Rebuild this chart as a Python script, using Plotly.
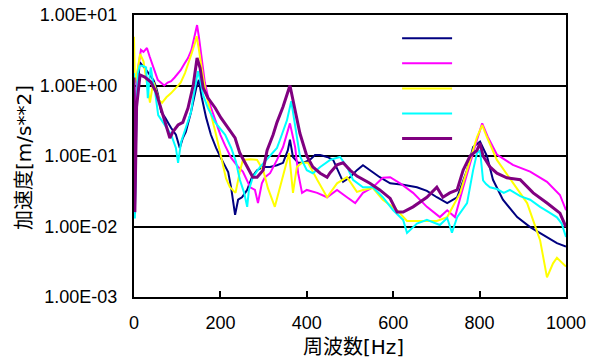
import plotly.graph_objects as go

# ---- data (frequency in Hz, acceleration in m/s**2) ----
f_navy = [0, 2, 6, 13, 25, 37, 45, 50, 56, 63, 72, 86, 97, 106, 113, 120, 132, 144, 150, 157, 167, 178, 190, 201,
          218, 225, 231, 234, 241, 250, 262, 273, 285, 299, 315, 331, 345, 356, 361, 368, 380, 391, 407, 419, 431,
          447, 461, 472, 484, 500, 516, 530, 546, 569, 593, 623, 655, 678, 701, 725, 748, 771, 785, 801, 817, 831,
          854, 887, 917, 956, 979, 1000]
v_navy = [1.0, 0.015, 0.5, 2.15, 1.77, 1.41, 1.2, 1.0, 0.73, 0.42, 0.35, 0.25, 0.2, 0.13, 0.18, 0.22, 0.42, 0.92,
          1.2, 0.67, 0.35, 0.2, 0.13, 0.094, 0.059, 0.035, 0.018, 0.0146, 0.024, 0.026, 0.033, 0.05, 0.063, 0.07,
          0.07, 0.074, 0.08, 0.12, 0.17, 0.097, 0.08, 0.08, 0.088, 0.103, 0.103, 0.097, 0.088, 0.063, 0.043, 0.05,
          0.063, 0.074, 0.063, 0.05, 0.041, 0.039, 0.036, 0.032, 0.026, 0.0215, 0.026, 0.063, 0.134, 0.16, 0.1,
          0.046, 0.024, 0.0136, 0.0098, 0.0071, 0.0058, 0.0052]

f_magenta = [0, 3, 8, 14, 16, 22, 30, 36, 42, 48, 55, 62, 70, 78, 86, 94, 101, 108, 116, 125, 133, 137, 142, 146,
             150, 155, 160, 164, 170, 176, 183, 190, 200, 211, 225, 241, 252, 269, 280, 287, 296, 303, 315, 331,
             345, 361, 373, 380, 389, 400, 424, 447, 470, 493, 512, 530, 553, 576, 593, 616, 646, 678, 708, 725,
             743, 762, 778, 794, 806, 819, 840, 877, 917, 956, 986, 1000]
v_magenta = [1.2, 0.3, 1.5, 2.5, 3.2, 3.0, 3.4, 2.6, 2.0, 1.55, 1.2, 1.1, 1.0, 1.1, 1.15, 1.3, 1.45, 1.65, 2.0,
             2.45, 3.2, 4.1, 5.5, 7.2, 5.0, 2.7, 1.6, 1.1, 0.75, 0.53, 0.4, 0.3, 0.2, 0.14, 0.094, 0.07, 0.06,
             0.036, 0.033, 0.0215, 0.041, 0.05, 0.057, 0.088, 0.134, 0.29, 0.134, 0.057, 0.03, 0.033, 0.03, 0.026,
             0.033, 0.026, 0.0215, 0.03, 0.036, 0.049, 0.05, 0.041, 0.03, 0.019, 0.0136, 0.017, 0.0136, 0.036,
             0.08, 0.17, 0.29, 0.186, 0.105, 0.075, 0.06, 0.043, 0.028, 0.017]

f_yellow = [0, 2, 8, 14, 22, 28, 33, 37, 42, 46, 50, 58, 65, 75, 86, 97, 108, 118, 125, 133, 141, 145, 150, 155,
            160, 166, 172, 178, 184, 190, 196, 201, 207, 213, 222, 235, 245, 252, 269, 285, 299, 310, 326, 345,
            359, 368, 377, 389, 403, 424, 447, 470, 493, 516, 530, 553, 576, 609, 632, 662, 701, 725, 755, 778,
            794, 806, 817, 840, 877, 910, 940, 956, 970, 979, 1000]
v_yellow = [4.9, 1.1, 1.6, 2.8, 2.2, 1.3, 0.8, 0.57, 0.9, 1.1, 0.9, 0.62, 0.57, 0.68, 0.78, 0.92, 1.1, 1.5, 1.95,
            2.8, 4.0, 5.0, 3.3, 2.0, 1.3, 0.8, 0.55, 0.38, 0.28, 0.2, 0.14, 0.1, 0.07, 0.048, 0.036, 0.03, 0.06,
            0.088, 0.09, 0.088, 0.063, 0.035, 0.019, 0.05, 0.11, 0.03, 0.07, 0.08, 0.08, 0.046, 0.026, 0.041, 0.05,
            0.031, 0.033, 0.035, 0.024, 0.017, 0.012, 0.012, 0.012, 0.0136, 0.03, 0.088, 0.186, 0.275, 0.186,
            0.088, 0.041, 0.0215, 0.0064, 0.0019, 0.003, 0.0036, 0.0027]

f_cyan = [0, 2, 5, 9, 13, 20, 28, 32, 36, 39, 44, 49, 56, 72, 86, 97, 102, 109, 120, 132, 137, 144, 148, 153, 160,
          171, 188, 211, 225, 236, 245, 255, 262, 266, 275, 292, 315, 331, 338, 354, 364, 373, 384, 400, 414, 431,
          454, 477, 493, 507, 530, 553, 576, 600, 623, 632, 655, 678, 708, 725, 736, 748, 771, 785, 794, 801, 808,
          815, 824, 840, 856, 870, 894, 917, 940, 960, 979, 990, 1000]
v_cyan = [1.5, 0.013, 0.3, 1.5, 1.9, 1.9, 1.8, 0.66, 1.3, 1.8, 1.1, 0.8, 0.38, 0.275, 0.2, 0.13, 0.08, 0.158, 0.25,
          0.42, 0.67, 1.28, 1.6, 1.2, 0.73, 0.48, 0.3, 0.2, 0.13, 0.083, 0.046, 0.03, 0.019, 0.033, 0.05, 0.07, 0.1,
          0.13, 0.17, 0.32, 0.6, 0.26, 0.1, 0.063, 0.057, 0.07, 0.088, 0.097, 0.07, 0.046, 0.036, 0.036, 0.026,
          0.017, 0.0124, 0.0081, 0.011, 0.0124, 0.0105, 0.0132, 0.0082, 0.0136, 0.0215, 0.063, 0.11, 0.12, 0.045,
          0.04, 0.036, 0.034, 0.03, 0.033, 0.027, 0.024, 0.019, 0.016, 0.0135, 0.011, 0.0071]

f_purple = [0, 2, 6, 14, 25, 39, 51, 60, 67, 74, 83, 90, 102, 113, 125, 137, 146, 153, 160, 171, 188, 201, 218,
            234, 245, 262, 275, 285, 299, 308, 322, 331, 345, 361, 373, 384, 400, 414, 431, 447, 454, 470, 484,
            500, 516, 546, 569, 593, 609, 623, 646, 678, 701, 715, 731, 748, 762, 778, 794, 801, 808, 824, 840,
            863, 894, 924, 956, 986, 1000]
v_purple = [1.3, 0.016, 0.5, 1.41, 1.32, 1.12, 0.81, 0.53, 0.38, 0.27, 0.18, 0.22, 0.275, 0.3, 0.48, 1.0, 2.45,
            1.77, 0.93, 0.67, 0.48, 0.35, 0.25, 0.18, 0.11, 0.07, 0.05, 0.05, 0.063, 0.12, 0.2, 0.3, 0.5, 1.0,
            0.45, 0.21, 0.1, 0.07, 0.057, 0.05, 0.058, 0.075, 0.08, 0.063, 0.052, 0.041, 0.033, 0.025, 0.016,
            0.016, 0.019, 0.026, 0.036, 0.026, 0.03, 0.033, 0.063, 0.1, 0.12, 0.153, 0.1, 0.07, 0.057, 0.049,
            0.046, 0.03, 0.0215, 0.0155, 0.0098]

y_tickvals = [1e-3, 1e-2, 1e-1, 1e0, 1e1]
y_ticktext = ["1.00E-03", "1.00E-02", "1.00E-01", "1.00E+00", "1.00E+01"]
x_tickvals = [0, 200, 400, 600, 800, 1000]
x_title = "周波数[Hz]"
y_title = "加速度[m/s**2]"

series = [
    (f_navy, v_navy, "#000080", 2),
    (f_magenta, v_magenta, "#FF00FF", 2),
    (f_yellow, v_yellow, "#FFFF00", 2),
    (f_cyan, v_cyan, "#00FFFF", 2),
    (f_purple, v_purple, "#800080", 3),
]

FONT = "Liberation Sans, Arial, Noto Sans CJK JP, sans-serif"
TFONT = "DejaVu Sans, Noto Sans CJK JP, sans-serif"

fig = go.Figure()
for fx, vy, col, w in series:
    fig.add_trace(go.Scatter(x=fx, y=vy, mode="lines", name="\u00a0",
                             line=dict(color=col, width=w)))

fig.update_layout(
    width=599, height=363,
    margin=dict(l=134, r=33, t=15, b=66),
    paper_bgcolor="white", plot_bgcolor="white",
    font=dict(family=FONT, size=18, color="black"),
    showlegend=True,
    legend=dict(x=0.609, y=0.98, xanchor="left", yanchor="top",
                bgcolor="rgba(0,0,0,0)", borderwidth=0, itemwidth=50,
                font=dict(size=17), tracegroupgap=0),
    shapes=[dict(type="rect", xref="paper", yref="paper", x0=0.616, x1=0.796,
                 y0=0.521, y1=0.968, fillcolor="white", line=dict(width=0),
                 layer="between")],
    annotations=[
        dict(text=x_title, xref="paper", yref="paper", x=0.507, y=-0.176,
             xanchor="center", yanchor="middle", showarrow=False,
             font=dict(family=TFONT, size=20)),
        dict(text=y_title, xref="paper", yref="paper", x=-0.2546, y=0.493,
             xanchor="center", yanchor="middle", showarrow=False, textangle=-90,
             font=dict(family=TFONT, size=20)),
    ],
)
fig.update_xaxes(
    range=[0, 1000], tickvals=x_tickvals, ticks="inside", ticklen=6, tickwidth=2,
    tickcolor="black", showline=True, linecolor="black", linewidth=2, mirror=True,
    showgrid=False, zeroline=False, ticklabelstandoff=8, automargin=False,
)
fig.update_yaxes(
    type="log", range=[-3, 1], tickvals=y_tickvals, ticktext=y_ticktext, ticks="",
    showline=True, linecolor="black", linewidth=2, mirror=True, automargin=False,
    showgrid=True, gridcolor="black", gridwidth=2, zeroline=False, ticklabelstandoff=11,
)

fig.write_html("out.html", config={"displayModeBar": False},
               post_script="document.body.style.margin='0';document.body.style.overflow='hidden';")
